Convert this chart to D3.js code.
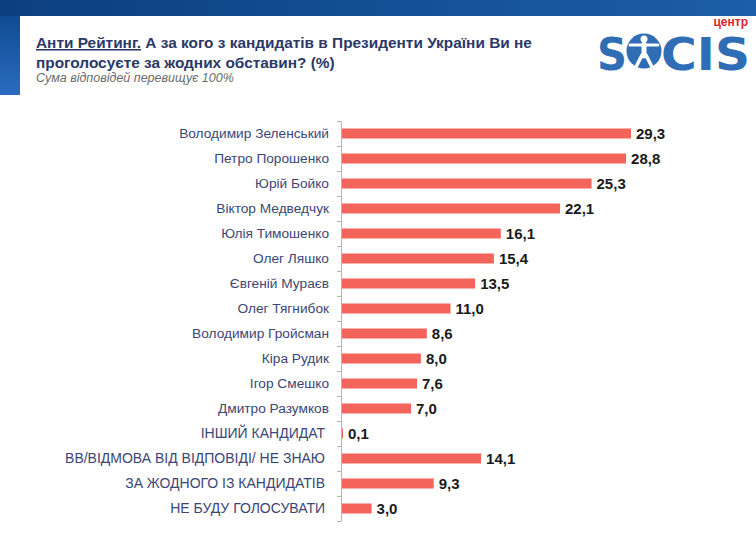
<!DOCTYPE html>
<html>
<head>
<meta charset="utf-8">
<script src="https://cdn.jsdelivr.net/npm/d3@7"></script>
<style>
  html, body { margin: 0; padding: 0; background: #fff; }
  svg { display: block; font-family: "Liberation Sans", Arial, sans-serif; }
</style>
</head>
<body>
<svg id="chart" width="756" height="537"></svg>
<script>
const labels = [
  "Володимир Зеленський",
  "Петро Порошенко",
  "Юрій Бойко",
  "Віктор Медведчук",
  "Юлія Тимошенко",
  "Олег Ляшко",
  "Євгеній Мураєв",
  "Олег Тягнибок",
  "Володимир Гройсман",
  "Кіра Рудик",
  "Ігор Смешко",
  "Дмитро Разумков",
  "ІНШИЙ КАНДИДАТ",
  "ВВ/ВІДМОВА ВІД ВІДПОВІДІ/ НЕ ЗНАЮ",
  "ЗА ЖОДНОГО ІЗ КАНДИДАТІВ",
  "НЕ БУДУ ГОЛОСУВАТИ",
];
const values = [29.3, 28.8, 25.3, 22.1, 16.1, 15.4, 13.5, 11.0, 8.6, 8.0, 7.6, 7.0, 0.1, 14.1, 9.3, 3.0];
const upperLabels = labels.slice(12);

const svg = d3.select("#chart");
const defs = svg.append("defs");

// header decoration
const topGrad = defs.append("linearGradient").attr("id", "topGrad").attr("x1", 0).attr("x2", 1);
topGrad.append("stop").attr("offset", "0%").attr("stop-color", "#0b3f80");
topGrad.append("stop").attr("offset", "100%").attr("stop-color", "#1c5ea8");
const sideGrad = defs.append("linearGradient").attr("id", "sideGrad").attr("x1", 0).attr("x2", 0).attr("y1", 0).attr("y2", 1);
sideGrad.append("stop").attr("offset", "0%").attr("stop-color", "#0f4b92");
sideGrad.append("stop").attr("offset", "100%").attr("stop-color", "#2a6cc0");

svg.append("rect").attr("x", 0).attr("y", 0).attr("width", 756).attr("height", 16).attr("fill", "url(#topGrad)");
svg.append("rect").attr("x", 0).attr("y", 16).attr("width", 20).attr("height", 79).attr("fill", "url(#sideGrad)");

// title
const title = svg.append("text").attr("x", 36).attr("y", 48)
  .attr("font-size", 15.4).attr("font-weight", "bold").attr("fill", "#2b3868");
title.append("tspan").attr("text-decoration", "underline").text("Анти Рейтинг.");
title.append("tspan").text(" А за кого з кандидатів в Президенти України Ви не");
svg.append("text").attr("x", 36).attr("y", 68)
  .attr("font-size", 15.4).attr("font-weight", "bold").attr("fill", "#2b3868")
  .text("проголосуєте за жодних обставин? (%)");
svg.append("text").attr("x", 36).attr("y", 82)
  .attr("font-size", 12.5).attr("font-style", "italic").attr("fill", "#6b6b6b")
  .text("Сума відповідей перевищує 100%");

// logo
const logo = svg.append("g").attr("fill", "#2f6db5");
logo.append("text").attr("x", 748).attr("y", 26).attr("text-anchor", "end")
  .attr("font-size", 12).attr("font-weight", "bold").attr("fill", "#d9252b").text("центр");
logo.append("text").attr("x", 597).attr("y", 70)
  .attr("font-size", 44).attr("font-weight", "bold").attr("font-family", "'DejaVu Sans', sans-serif")
  .attr("textLength", 30).attr("lengthAdjust", "spacingAndGlyphs").text("S");
logo.append("circle").attr("cx", 644).attr("cy", 51).attr("r", 17.5);
const fig = logo.append("g").attr("fill", "#fff").attr("stroke", "#fff").attr("stroke-linecap", "round");
fig.append("circle").attr("cx", 644).attr("cy", 39).attr("r", 3.5).attr("stroke", "none");
fig.append("path").attr("d", "M630,45 L658,45").attr("stroke-width", 3);
fig.append("path").attr("d", "M644,44 L644,56").attr("stroke-width", 5);
fig.append("path").attr("d", "M642,55 L636,67 M646,55 L652,67").attr("stroke-width", 3.5);
logo.append("text").attr("x", 661).attr("y", 70)
  .attr("font-size", 44).attr("font-weight", "bold").attr("font-family", "'DejaVu Sans', sans-serif")
  .attr("textLength", 89).attr("lengthAdjust", "spacingAndGlyphs").text("CIS");

// chart
const x0 = 342;
const x = d3.scaleLinear().domain([0, 29.3]).range([x0, 631]);
const y = d3.scaleBand().domain(labels).range([121, 521]);
const bh = 10;

const g = svg.append("g");

g.selectAll("rect.bar").data(labels).join("rect")
  .attr("class", "bar")
  .attr("x", x(0))
  .attr("y", (d) => y(d) + y.bandwidth() / 2 - bh / 2)
  .attr("width", (d, i) => x(values[i]) - x(0))
  .attr("height", bh)
  .attr("fill", "#f4645a");

g.selectAll("text.val").data(labels).join("text")
  .attr("class", "val")
  .attr("x", (d, i) => x(values[i]) + 5)
  .attr("y", (d) => y(d) + y.bandwidth() / 2 + 5.5)
  .attr("font-size", 15).attr("font-weight", "bold").attr("fill", "#1a1a1a")
  .text((d, i) => values[i].toFixed(1).replace(".", ","));

// axis line with ticks at band boundaries
const boundaries = labels.map((d) => y(d)).concat([y.range()[1]]);
const yEdge = d3.scaleLinear().domain([121, 521]).range([121, 521]);
const edgeAxis = g.append("g").attr("transform", `translate(${x0 - 1},0)`)
  .call(d3.axisLeft(yEdge).tickValues(boundaries).tickSize(4).tickFormat("").tickSizeOuter(0));
edgeAxis.selectAll("line, path").attr("stroke", "#b5b5b5");

const labelAxis = g.append("g").attr("transform", `translate(${x0 - 1},0)`)
  .call(d3.axisLeft(y).tickSize(0).tickPadding(12));
labelAxis.select(".domain").remove();
labelAxis.selectAll("text")
  .attr("font-size", (d) => (upperLabels.includes(d) ? 14 : 13.7)).attr("fill", "#3b4676")
  .attr("font-family", "'Liberation Sans', Arial, sans-serif")
  .attr("dx", (d) => (upperLabels.includes(d) ? -4 : 0));
</script>
</body>
</html>
